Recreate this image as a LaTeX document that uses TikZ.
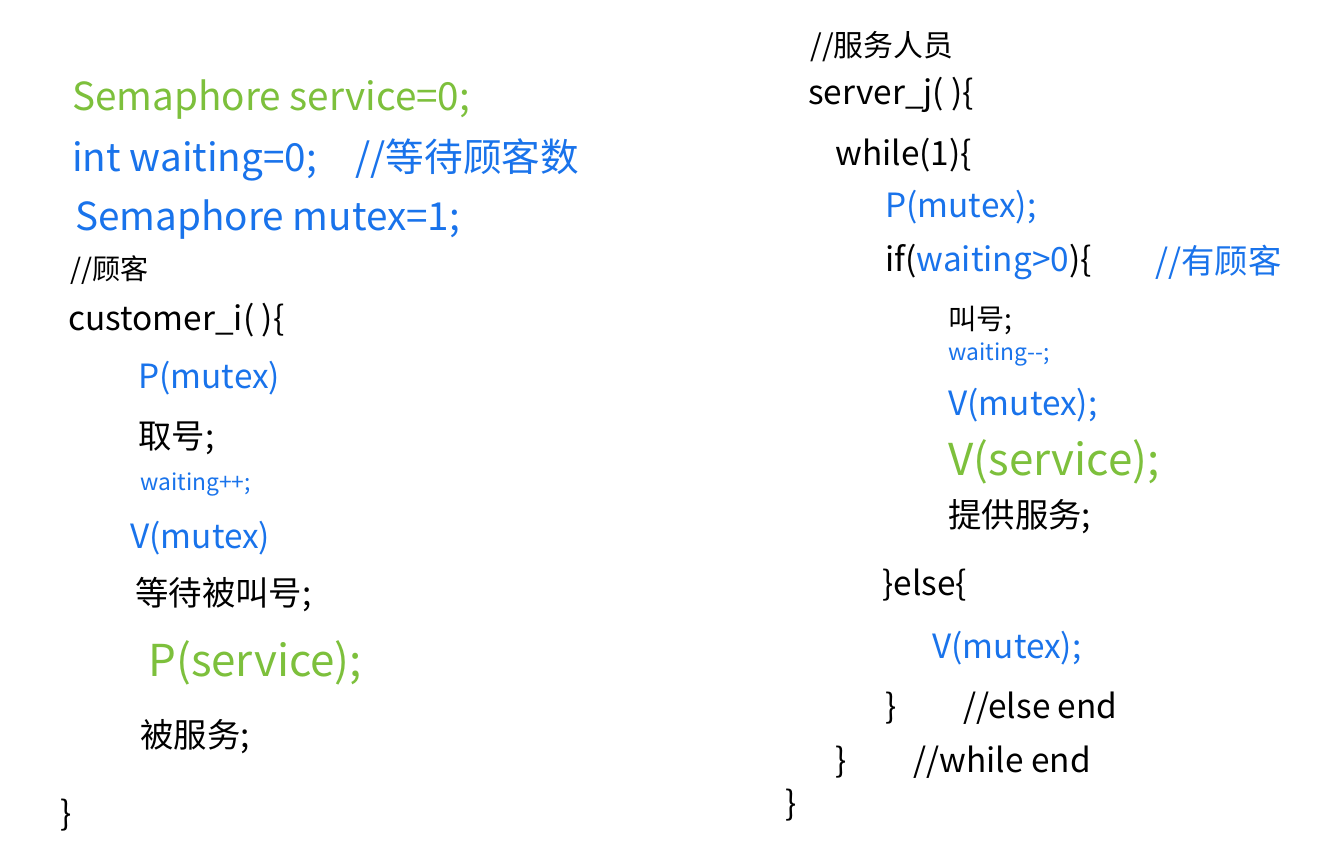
\documentclass[tikz,border=0pt]{standalone}
\usepackage{fontspec}
\setmainfont{Noto Sans CJK SC}
\usetikzlibrary{positioning}
\definecolor{codegreen}{RGB}{125,192,60}
\definecolor{codeblue}{RGB}{25,115,235}
\begin{document}
\begin{tikzpicture}[x=0.02cm,y=-0.02cm,
  line/.style={anchor=west, inner sep=0pt, font=\fontsize{19}{22}\selectfont},
  wide/.style={line, font=\fontsize{22}{26}\selectfont},
  small/.style={line, font=\fontsize{13}{16}\selectfont},
  big/.style={line, font=\fontsize{25}{29}\selectfont},
  gr/.style={text=codegreen},
  bl/.style={text=codeblue}
]
  \useasboundingbox[fill=white] (0,0) rectangle (1324,864);

  % shared variables
  \node[wide, gr] (sem) at (72,100) {Semaphore service=0;};
  \node[wide, bl] (wait) at (72,160) {int waiting=0;\quad //等待顾客数};
  \node[wide, bl] (mtx) at (75,220) {Semaphore mutex=1;};

  % customer
  \node[line, font=\fontsize{16}{19}\selectfont] (ccom) at (70,270) {//顾客};
  \node[line] (cust) at (68,320) {customer\_i( )\{};
  \node[line, bl] (cp1) at (138,378) {P(mutex)};
  \node[line] (take) at (138,438) {取号;};
  \node[small, bl] (winc) at (140,485) {waiting++;};
  \node[line, bl] (cv1) at (130,538) {V(mutex)};
  \node[line] (wcall) at (135,595) {等待被叫号;};
  \node[big, gr] (cps) at (148,663) {P(service);};
  \node[line] (served) at (140,737) {被服务;};
  \node[line] (cend) at (60,815) {\}};

  % server
  \node[line, font=\fontsize{17}{20}\selectfont] (scom) at (810,47) {//服务人员};
  \node[line] (serv) at (808,95) {server\_j( )\{};
  \node[line] (loop) at (835,155) {while(1)\{};
  \node[line, bl] (sp1) at (885,207) {P(mutex);};
  \node[line] (cond) at (885,262) {if(\textcolor{codeblue}{waiting>0})\{};
  \node[line, bl] (hcom) at (1155,262) {//有顾客};
  \node[line, font=\fontsize{16}{19}\selectfont] (call) at (948,320) {叫号;};
  \node[small, bl] (wdec) at (948,355) {waiting-{}-;};
  \node[line, bl] (sv1) at (948,405) {V(mutex);};
  \node[big, gr] (svs) at (948,462) {V(service);};
  \node[line] (give) at (948,517) {提供服务;};
  \node[line] (els) at (882,585) {\}else\{};
  \node[line, bl] (sv2) at (932,648) {V(mutex);};
  \node[line] (eend) at (885,708) {\}\qquad//else end};
  \node[line] (wend) at (835,762) {\}\qquad//while end};
  \node[line] (send) at (785,805) {\}};
\end{tikzpicture}
\end{document}
